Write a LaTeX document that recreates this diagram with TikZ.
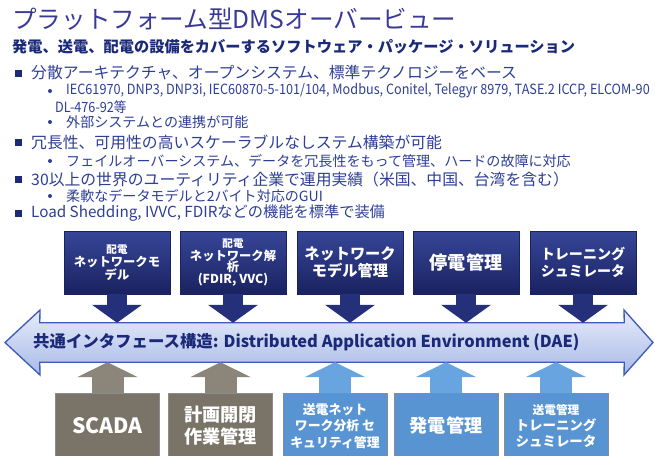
\documentclass[tikz,border=0pt]{standalone}
\usepackage{fontspec}
\setmainfont{Noto Sans CJK JP}
\newfontfamily\narrowfont[FakeStretch=0.9]{Noto Sans CJK JP}
\usetikzlibrary{arrows.meta}

\definecolor{titleblue}{RGB}{58,58,150}
\definecolor{subblue}{RGB}{27,42,120}
\definecolor{textblue}{RGB}{45,62,150}
\definecolor{navy}{RGB}{36,48,122}
\definecolor{navytop}{RGB}{54,70,152}
\definecolor{navybot}{RGB}{26,34,96}
\definecolor{bandline}{RGB}{62,92,180}
\definecolor{bandtop}{RGB}{232,236,250}
\definecolor{bandbot}{RGB}{168,186,232}
\definecolor{taupe}{RGB}{122,115,103}
\definecolor{taupeup}{RGB}{140,134,122}
\definecolor{skyblue}{RGB}{88,148,210}
\definecolor{skyup}{RGB}{104,164,224}

\begin{document}
\begin{tikzpicture}[x=0.3mm, y=-0.3mm,
    every node/.style={inner sep=0pt},
    heading/.style={anchor=west, text=titleblue, font=\fontsize{21}{24}\selectfont},
    subheading/.style={anchor=west, text=subblue, font=\fontsize{13}{15}\selectfont\bfseries},
    item/.style={anchor=west, text=textblue, font=\fontsize{13.5}{15}\selectfont},
    subitem/.style={anchor=west, text=textblue, font=\fontsize{12}{14}\selectfont},
    codes/.style={anchor=west, text=textblue, font=\narrowfont\fontsize{12}{14}\selectfont},
    square/.style={fill=subblue, minimum size=2.1mm},
    dot/.style={circle, fill=textblue, minimum size=1.2mm},
    topbox/.style={draw=navybot, top color=navytop, bottom color=navybot, text=white,
        minimum width=31.8mm, minimum height=18.9mm, align=center, font=\bfseries},
    botbox/.style={draw=black!45, text=white, minimum width=31.2mm, minimum height=19.8mm,
        align=center, font=\bfseries},
    downarr/.style={navy, line width=6mm, -{Triangle[length=5.4mm, width=15mm, line width=0pt]}},
    uparr/.style={line width=9.6mm, -{Triangle[length=4.5mm, width=18.3mm, line width=0pt]}},
    bandshape/.style={draw=bandline, line width=0.4mm, top color=bandtop, bottom color=bandbot}
]
\useasboundingbox (0,0) rectangle (655,455);
\clip (0,0) rectangle (655,455);

% Title and subtitle
\node[heading] (title) at (12,19) {プラットフォーム型DMSオーバービュー};
\node[subheading] (sub) at (12,47) {発電、送電、配電の設備をカバーするソフトウェア・パッケージ・ソリューション};

% Bullet list
\node[square] (s1) at (18,73) {};
\node[item] (i1) at (31,73) {分散アーキテクチャ、オープンシステム、標準テクノロジーをベース};
\node[dot] (d11) at (50,91) {};
\node[codes] (i11) at (66,91)
    {IEC61970, DNP3, DNP3i, IEC60870-5-101/104, Modbus, Conitel, Telegyr 8979, TASE.2 ICCP, ELCOM-90};
\node[codes] (i12) at (55,107) {DL-476-92等};
\node[dot] (d13) at (50,122) {};
\node[subitem] (i13) at (66,122) {外部システムとの連携が可能};

\node[square] (s2) at (18,142) {};
\node[item] (i2) at (31,142) {冗長性、可用性の高いスケーラブルなしステム構築が可能};
\node[dot] (d21) at (50,161) {};
\node[subitem] (i21) at (66,161) {フェイルオーバーシステム、データを冗長性をもって管理、ハードの故障に対応};

\node[square] (s3) at (18,179) {};
\node[item] (i3) at (31,179) {30以上の世界のユーティリティ企業で運用実績（米国、中国、台湾を含む）};
\node[dot] (d31) at (50,196) {};
\node[subitem] (i31) at (66,196) {柔軟なデータモデルと2バイト対応のGUI};

\node[square] (s4) at (18,213) {};
\node[item, font=\fontsize{13}{15}\selectfont] (i4) at (31,213) {Load Shedding, IVVC, FDIRなどの機能を標準で装備};

% Common interface band
\node[minimum width=175.2mm, minimum height=11.7mm] (band) at (332,342.5) {};
\draw[bandshape] (band.north west) -- (band.north east) -- (624,310) -- (653,342.5)
    -- (624,375) -- (band.south east) -- (band.south west) -- (40,375) -- (5,342.5)
    -- (40,310) -- cycle;
\node[anchor=west, text=subblue, font=\fontsize{14}{16}\selectfont\bfseries] (dae) at (33,342.5)
    {共通インタフェース構造: Distributed Application Environment (DAE)};

% Distribution applications
\node[topbox] (t1) at (117,262.5) {{\fontsize{9}{11}\selectfont 配電}\\[-1pt]
    {\fontsize{10.5}{13}\selectfont ネットワークモ}\\[-1pt]{\fontsize{10.5}{13}\selectfont デル}};
\node[topbox] (t2) at (233,262.5) {{\fontsize{9}{11}\selectfont 配電}\\[-1pt]
    {\fontsize{10.5}{13}\selectfont ネットワーク解}\\[-2pt]{\fontsize{10.5}{13}\selectfont 析}\\[-2pt]
    {\fontsize{10.5}{13}\selectfont (FDIR, VVC)}};
\node[topbox, font=\fontsize{13}{15}\selectfont\bfseries] (t3) at (350,262.5) {ネットワーク\\モデル管理};
\node[topbox, font=\fontsize{15.5}{18}\selectfont\bfseries] (t4) at (466,262.5) {停電管理};
\node[topbox, font=\fontsize{12}{15}\selectfont\bfseries] (t5) at (583,262.5) {トレーニング\\シュミレータ};

\draw[downarr] (t1.south) -- (t1.south |- band.north);
\draw[downarr] (t2.south) -- (t2.south |- band.north);
\draw[downarr] (t3.south) -- (t3.south |- band.north);
\draw[downarr] (t4.south) -- (t4.south |- band.north);
\draw[downarr] (t5.south) -- (t5.south |- band.north);

% Operation and transmission applications
\node[botbox, fill=taupe, font=\fontsize{18}{20}\selectfont\bfseries] (b1) at (107.5,426) {SCADA};
\node[botbox, fill=taupe, font=\fontsize{15.5}{19}\selectfont\bfseries] (b2) at (220.5,426) {計画開閉\\作業管理};
\node[botbox, fill=skyblue, font=\fontsize{11}{14}\selectfont\bfseries] (b3) at (335,426)
    {送電ネット\\ワーク分析 セ\\キュリティ管理};
\node[botbox, fill=skyblue, font=\fontsize{15.5}{19}\selectfont\bfseries] (b4) at (446,426) {発電管理};
\node[botbox, fill=skyblue, font=\fontsize{11.5}{14}\selectfont\bfseries] (b5) at (556,426)
    {{\fontsize{10}{12}\selectfont 送電管理}\\トレーニング\\シュミレータ};

\draw[uparr, taupeup] (b1.north) -- (b1.north |- band.south);
\draw[uparr, taupeup] (b2.north) -- (b2.north |- band.south);
\draw[uparr, skyup] (b3.north) -- (b3.north |- band.south);
\draw[uparr, skyup] (b4.north) -- (b4.north |- band.south);
\draw[uparr, skyup] (b5.north) -- (b5.north |- band.south);

\end{tikzpicture}
\end{document}
